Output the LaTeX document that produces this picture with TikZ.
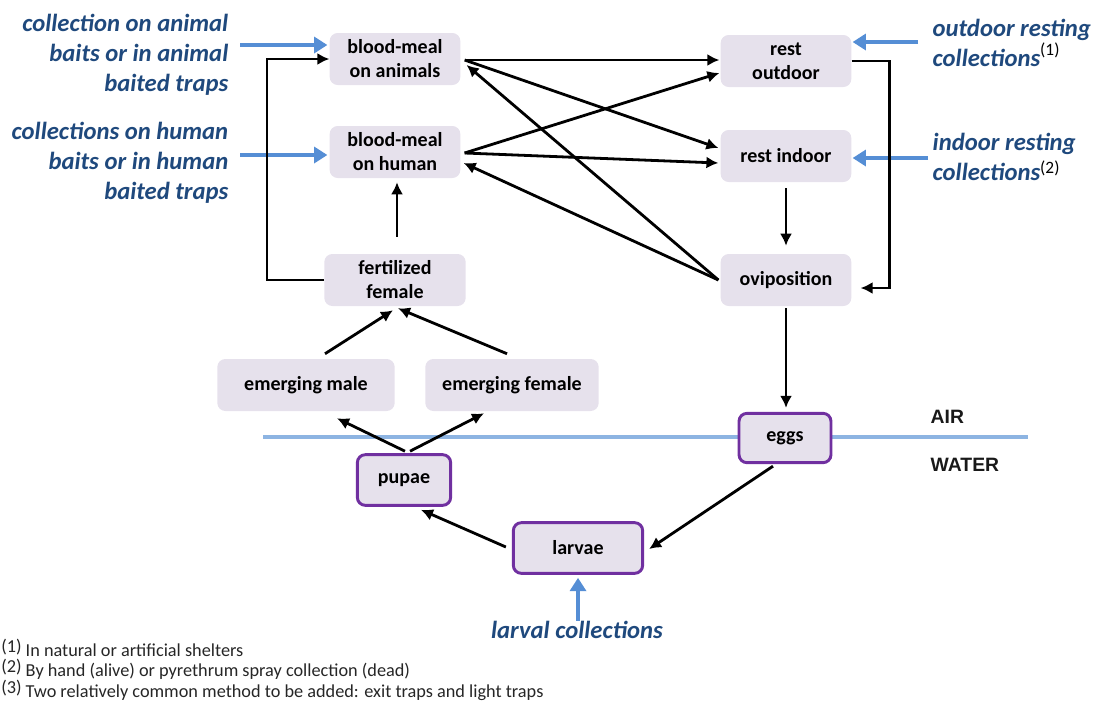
\documentclass[tikz,border=0pt]{standalone}
\usepackage{fontspec}
\setmainfont{Carlito}
\newfontfamily\zonefont{Liberation Sans}
\usepackage{tikz}
\usetikzlibrary{positioning, calc, arrows.meta}
\definecolor{boxfill}{RGB}{230,225,236}
\definecolor{stageedge}{RGB}{112,48,160}
\definecolor{methodblue}{RGB}{31,73,125}
\definecolor{arrowblue}{RGB}{85,142,213}
\definecolor{surface}{RGB}{141,180,226}

\begin{document}
\begin{tikzpicture}[x=0.75pt, y=-0.75pt,
    stage/.style={rectangle, 
      rounded corners=6pt, 
      fill=boxfill, 
      align=center, 
      inner sep=2pt, 
      minimum width=98pt, 
      minimum height=39pt, 
      font=\fontsize{15}{18}\selectfont\bfseries},
    aquatic/.style={stage, 
      draw=stageedge, 
      line width=2.2pt, 
      minimum height=38pt},
    method/.style={text=methodblue, 
      font=\fontsize{18.5}{22.6}\selectfont\bfseries\itshape},
    zone/.style={font=\fontsize{14.5}{16}\selectfont\zonefont\bfseries, 
      text=black!90},
    note/.style={font=\fontsize{13.7}{15}\selectfont, 
      text=black!85, inner sep=0pt},
    flow/.style={-{Latex[length=9pt,width=9pt]}, line width=2.1pt},
    catch/.style={-{Triangle[length=10pt,width=12pt]}, 
      line width=3.6pt, arrowblue}]
  \useasboundingbox (0,0) rectangle (1098,701);

  % STAGES IN THE AIR

  \node [stage] (bloodA) at (395,59) {blood-meal\\on animals};
  \node [stage] (bloodH) at (395,152) {blood-meal\\on human};
  \node [stage] (restO) at (786,61) {rest\\outdoor};
  \node [stage] (restI) at (786,156) {rest indoor};
  \node [stage] (ovip) at (786,280) {oviposition};
  \node [stage, minimum width=106pt] (fert) at (395,280) {fertilized\\female};
  \node [stage, minimum width=133pt] (emM) at (306,385) {emerging male};
  \node [stage, minimum width=130pt] (emF) at (512,385) {emerging female};

  % WATER SURFACE

  \draw [surface, line width=2.8pt] (263,437) -- (1028,437);
  \node [zone, anchor=west] (air) at (926,417) {AIR};
  \node [zone, anchor=west] (water) at (926,465) {WATER};

  % STAGES IN THE WATER

  \node [aquatic, minimum width=70pt] (pupae) at (404,480) {pupae};
  \node [aquatic, minimum width=97pt] (larvae) at (578,548) {larvae};
  \node [aquatic, minimum width=69pt, minimum height=37pt] (eggs) at (785,438) {eggs};

  % COLLECTION METHODS

  \node [method, anchor=east, align=right] (baitA) at (233,55) 
    {collection on animal\\baits or in animal\\baited traps};
  \node [method, anchor=east, align=right] (baitH) at (233,163) 
    {collections on human\\baits or in human\\baited traps};
  \node [method, anchor=west, align=left] (restOut) at (928,43) 
    {outdoor resting\\collections\raisebox{8pt}{\normalfont\fontsize{13}{13}\selectfont\color{black}(1)}};
  \node [method, anchor=west, align=left] (restIn) at (928,157) 
    {indoor resting\\collections\raisebox{5pt}{\normalfont\fontsize{13}{13}\selectfont\color{black}(2)}};
  \node [method] (larval) at (577,630) {larval collections};

  \draw[catch] ($(baitA.east |- bloodA.west)+(7,-14)$) -- ($(bloodA.west)+(-2,-14)$);
  \draw[catch] ($(baitH.east |- bloodH.west)+(7,3)$) -- ($(bloodH.west)+(-2,3)$);
  \draw[catch] ($(restOut.west |- restO.east)+(-10,-19)$) -- ($(restO.east)+(1,-19)$);
  \draw[catch] ($(restIn.west |- restI.east)+(0,2)$) -- ($(restI.east)+(1,2)$);
  \draw[catch] ($(larval.north)+(1,4)$) -- ($(larvae.south)+(0,3)$);

  % LIFE CYCLE

  \draw[flow] (fert.west) -- ++(-57,0) |- (bloodA.west);
  \draw[flow] ($(fert.north)+(2,-17)$) -- ($(bloodH.south)+(2,4)$);
  \draw[flow] ($(emM.north)+(19,-5)$) -- ($(fert.south)+(-2,4)$);
  \draw[flow] ($(emF.north)+(-5,-5)$) -- ($(fert.south)+(3,2)$);
  \draw[flow] ($(pupae.north)+(1,-2)$) -- ($(emM.south)+(31,7)$);
  \draw[flow] ($(pupae.north)+(6,-2)$) -- ($(emF.south)+(-28,2)$);
  \draw[flow] ($(larvae.west)+(-6,-1)$) -- ($(pupae.south)+(17,3)$);
  \draw[flow] ($(eggs.south)+(-12,2)$) -- ($(larvae.east)+(5,1)$);
  \draw[flow] ($(ovip.south)+(0,2)$) -- ($(eggs.north)+(1,-4)$);
  \draw[flow] ($(restI.south)+(0,6)$) -- ($(ovip.north)+(0,-8)$);
  \draw[flow] (restO.east) -- ++(38,0) |- ($(ovip.east)+(9,8)$);

  \draw[flow] ($(bloodA.east)+(4,1)$) -- ($(restO.west)+(-1,-1)$);
  \draw[flow] ($(bloodA.east)+(4,1)$) -- ($(restI.west)+(-2,-8)$);
  \draw[flow] ($(bloodH.east)+(4,1)$) -- ($(restO.west)+(-1,12)$);
  \draw[flow] ($(bloodH.east)+(4,1)$) -- ($(restI.west)+(-2,7)$);
  \draw[flow] ($(ovip.west)+(-2,0)$) -- ($(bloodA.east)+(6,6)$);
  \draw[flow] ($(ovip.west)+(-2,0)$) -- ($(bloodH.east)+(3,11)$);

  % FOOTNOTES

  \node [note, anchor=west] (noteA) at (1,648) 
    {\raisebox{3pt}{(1)} In natural or artificial shelters};
  \node [note, below=16pt of noteA.west, anchor=west] (noteB) 
    {\raisebox{3pt}{(2)} By hand (alive) or pyrethrum spray collection (dead)};
  \node [note, below=16pt of noteB.west, anchor=west] (noteC) 
    {\raisebox{3pt}{(3)} Two relatively common method to be added: exit traps and light traps};

\end{tikzpicture}
\end{document}
